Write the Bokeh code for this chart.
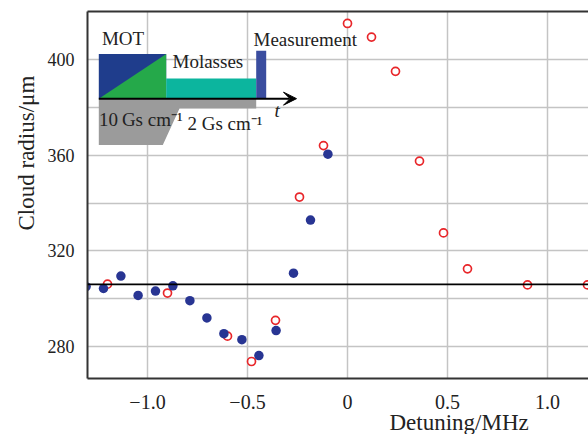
from bokeh.plotting import figure
from bokeh.models import (Range1d, FixedTicker, LinearAxis, Label, Arrow, VeeHead, Span, Title)
from bokeh.embed import file_html
from bokeh.resources import INLINE

# ---- data ----
blue_x = [-1.307, -1.22, -1.133, -1.047, -0.96, -0.873, -0.788, -0.703, -0.618, -0.528, -0.443, -0.357, -0.27, -0.185, -0.098]
blue_y = [305.1, 304.3, 309.5, 301.4, 303.2, 305.4, 299.2, 292.0, 285.4, 282.9, 276.3, 286.7, 310.7, 332.9, 360.4]
red_x = [-1.20, -0.90, -0.60, -0.48, -0.36, -0.24, -0.12, 0.0, 0.12, 0.24, 0.36, 0.48, 0.60, 0.90, 1.20]
red_y = [306.1, 302.4, 284.4, 273.8, 291.0, 342.5, 364.0, 415.0, 409.3, 395.0, 357.5, 327.5, 312.5, 305.8, 305.8]
reference_radius = 306.0

x_ticks = [-1.0, -0.5, 0.0, 0.5, 1.0]
x_tick_labels = ["\u22121.0", "\u22120.5", "0", "0.5", "1.0"]
y_ticks = [280, 320, 360, 400]
y_minor = [300, 340, 380]
x_title = "Detuning/MHz"
y_title = "Cloud radius/\u03bcm"

FONT = "Liberation Serif"
GRID = "#c4c4c4"
AX = "#333333"

p = figure(width=588, height=434, output_backend="svg", toolbar_location=None,
           x_range=Range1d(-1.3, 1.205), y_range=Range1d(266.7, 420.0),
           min_border_left=87, min_border_right=0, min_border_top=11, min_border_bottom=56)
p.outline_line_color = None
p.background_fill_color = "white"

# axes
p.xaxis.ticker = FixedTicker(ticks=x_ticks)
p.xaxis.major_label_overrides = {t: l for t, l in zip(x_ticks, x_tick_labels)}
p.yaxis.ticker = FixedTicker(ticks=y_ticks, minor_ticks=y_minor)
for ax in (p.xaxis[0], p.yaxis[0]):
    ax.axis_line_color = AX
    ax.axis_line_width = 2
    ax.major_tick_line_color = None
    ax.minor_tick_line_color = None
    ax.major_label_text_font = FONT
    ax.major_label_text_color = "#222222"
p.xaxis.major_label_text_font_size = "20px"
p.yaxis.major_label_text_font_size = "18px"
p.xaxis.major_label_standoff = 10
p.yaxis.major_label_standoff = 7

top = LinearAxis(axis_line_color=AX, axis_line_width=2, major_tick_line_color=None,
                 minor_tick_line_color=None, major_label_text_font_size="0px",
                 ticker=FixedTicker(ticks=[]))
p.add_layout(top, "above")

p.xgrid.ticker = FixedTicker(ticks=x_ticks)
p.xgrid.grid_line_color = GRID
p.xgrid.grid_line_width = 1.5
p.ygrid.ticker = FixedTicker(ticks=y_ticks, minor_ticks=y_minor)
p.ygrid.grid_line_color = GRID
p.ygrid.grid_line_width = 1.5
p.ygrid.minor_grid_line_color = GRID
p.ygrid.minor_grid_line_width = 1.5

# axis titles as side titles (positioned like the reference)
p.add_layout(Title(text=x_title, text_font=FONT, text_font_size="23px", text_font_style="normal",
                   text_color="#222222", align="left", offset=302, standoff=-7), "below")
p.add_layout(Title(text=y_title, text_font=FONT, text_font_size="23px", text_font_style="normal",
                   text_color="#222222", align="left", offset=148, standoff=12), "left")

# ---- inset timing diagram ----
t0, t1, t2, t3 = -1.2435, -0.9065, -0.4565, -0.4065
base = 383.6
p.patch([t0, t2, t2, -0.84, -0.9235, t0], [base, base, 379.5, 379.5, 364.2, 364.2],
        fill_color="#9b9b9b", line_color=None)
p.quad(left=t0, right=t1, bottom=base, top=402.2, fill_color="#1f3d8c", line_color=None)
p.patch([t0, t1, t1], [base, 402.2, base], fill_color="#25a94a", line_color=None)
p.quad(left=t1, right=t2, bottom=base, top=392.0, fill_color="#0cb59e", line_color=None)
p.quad(left=t2, right=t3, bottom=base, top=403.6, fill_color="#3a4d9f", line_color=None)
p.add_layout(Arrow(end=VeeHead(size=13, fill_color="black", line_color="black"),
                   x_start=t0, y_start=base, x_end=-0.255, y_end=base,
                   line_color="black", line_width=2))

def lab(x, y, s, style="normal", size="19px"):
    p.add_layout(Label(x=x, y=y, text=s, text_font=FONT, text_font_size=size,
                       text_font_style=style, text_color="#222222",
                       text_align="left", text_baseline="middle"))

lab(-1.228, 408.8, "MOT")
lab(-0.875, 399.3, "Molasses")
lab(-0.47, 408.4, "Measurement")
lab(-1.242, 375.0, "10\u2009Gs cm\u207b\u00b9")
lab(-0.80, 373.3, "2 Gs cm\u207b\u00b9")
lab(-0.365, 378.5, "t", style="italic")

# ---- data ----
p.add_layout(Span(location=reference_radius, dimension="width", line_color="black", line_width=1.6))
p.scatter(red_x, red_y, size=8, marker="circle", fill_color="white", line_color="#e8262a", line_width=1.7)
p.scatter(blue_x, blue_y, size=9.5, marker="circle", fill_color="#283593", line_color=None)

open("out.html", "w").write(file_html(p, INLINE))
